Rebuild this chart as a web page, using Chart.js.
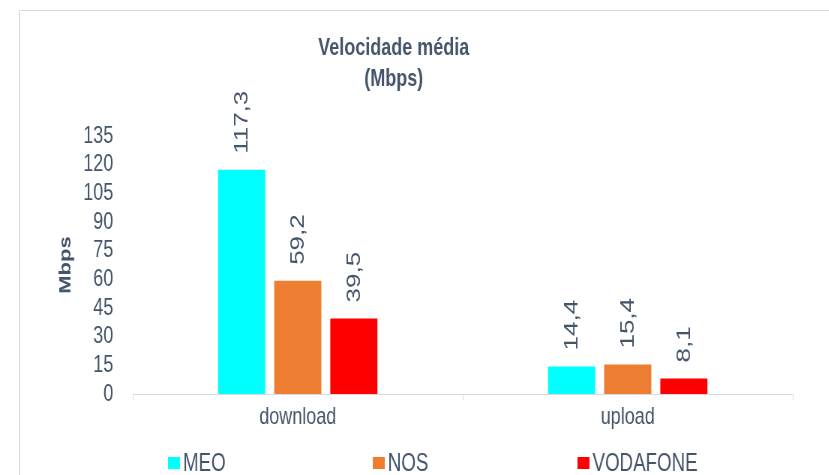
<!DOCTYPE html>
<html lang="pt">
<head>
<meta charset="utf-8">
<title>Velocidade média (Mbps)</title>
<script src="https://cdn.jsdelivr.net/npm/chart.js@4.4.1/dist/chart.umd.min.js"></script>
<style>
  html, body { margin: 0; padding: 0; background: #fff; }
  #wrap { position: relative; width: 829px; height: 475px; overflow: hidden; }
  #frame { position: absolute; left: 19px; top: 10px; right: -10px; bottom: -10px; border-left: 1px solid #d9d9d9; border-top: 1px solid #d9d9d9; }
  /* the original picture is an Excel chart squeezed horizontally: draw wide, then squeeze */
  #squeeze { position: absolute; left: 0; top: 0; width: 1105px; height: 475px; transform: scaleX(0.75); transform-origin: 0 0; }
</style>
</head>
<body>
<div id="wrap">
  <div id="frame"></div>
  <div id="squeeze"><canvas id="graVel" width="1105" height="475" style="width:1105px;height:475px"></canvas></div>
</div>
<script>
const categorias = ['download', 'upload'];
const operadoras = ['MEO', 'NOS', 'VODAFONE'];
const meo = [117.3, 14.4];
const nos = [59.2, 15.4];
const vodafone = [39.5, 8.1];
const yTicks = [0, 15, 30, 45, 60, 75, 90, 105, 120, 135];
const titulo = ['Velocidade média', '(Mbps)'];

const cores = ['#00ffff', '#ed7d31', '#ff0000'];
const corTexto = '#44546a';
const fonte = "'Liberation Sans', Arial, sans-serif";

const fmt = v => String(v.toFixed(1)).replace('.', ',');

// rotated value labels above each bar
const rotLabels = {
  id: 'rotLabels',
  afterDatasetsDraw(chart) {
    const { ctx } = chart;
    ctx.save();
    ctx.font = `26px ${fonte}`;
    ctx.fillStyle = corTexto;
    ctx.textAlign = 'left';
    ctx.textBaseline = 'middle';
    chart.data.datasets.forEach((ds, i) => {
      chart.getDatasetMeta(i).data.forEach((bar, j) => {
        ctx.save();
        ctx.translate(bar.x, bar.y - 16);
        ctx.rotate(-Math.PI / 2);
        ctx.fillText(fmt(ds.data[j]), 0, 1);
        ctx.restore();
      });
    });
    ctx.restore();
  }
};

// title + excel-like legend (evenly spaced)
const decor = {
  id: 'decor',
  afterDraw(chart) {
    const { ctx } = chart;
    ctx.save();
    ctx.fillStyle = corTexto;
    ctx.textAlign = 'center';
    ctx.textBaseline = 'middle';
    ctx.font = `bold 24px ${fonte}`;
    titulo.forEach((t, i) => ctx.fillText(t, 525, 48 + i * 31));

    ctx.font = `25px ${fonte}`;
    ctx.textAlign = 'left';
    chart.data.datasets.forEach((ds, i) => {
      const x = 224 + i * 273;
      ctx.fillStyle = ds.backgroundColor;
      ctx.fillRect(x, 457, 16, 12);
      ctx.fillStyle = corTexto;
      ctx.fillText(ds.label, x + 20, 464);
    });
    ctx.restore();
  }
};

const series = [meo, nos, vodafone];
const chVel = new Chart(document.getElementById('graVel'), {
  type: 'bar',
  data: {
    labels: categorias,
    datasets: operadoras.map((op, i) => ({
      label: op, data: series[i], backgroundColor: cores[i],
      categoryPercentage: 0.51, barPercentage: 0.84
    }))
  },
  options: {
    responsive: false,
    animation: false,
    devicePixelRatio: 1,
    layout: { padding: { top: 136, right: 48, left: 0, bottom: 0 } },
    plugins: { legend: { display: false }, title: { display: false }, tooltip: { enabled: false } },
    scales: {
      x: {
        grid: { display: true, drawOnChartArea: false, drawTicks: true, tickLength: 6, color: '#d9d9d9', offset: true },
        border: { display: true, color: '#d9d9d9' },
        ticks: { color: corTexto, font: { family: fonte, size: 24 }, padding: 3 },
        afterFit(s) { s.height = 81; }
      },
      y: {
        min: 0, max: 135,
        afterBuildTicks(s) { s.ticks = yTicks.map(v => ({ value: v })); },
        grid: { display: false, drawTicks: false },
        border: { display: false },
        ticks: { color: corTexto, font: { family: fonte, size: 24 }, padding: 26, autoSkip: false },
        title: { display: true, text: 'Mbps', color: corTexto, font: { family: fonte, size: 22, weight: 'bold' }, padding: { top: 75, bottom: 0 } },
        afterFit(s) { s.width = 177; }
      }
    }
  },
  plugins: [rotLabels, decor]
});
</script>
</body>
</html>
